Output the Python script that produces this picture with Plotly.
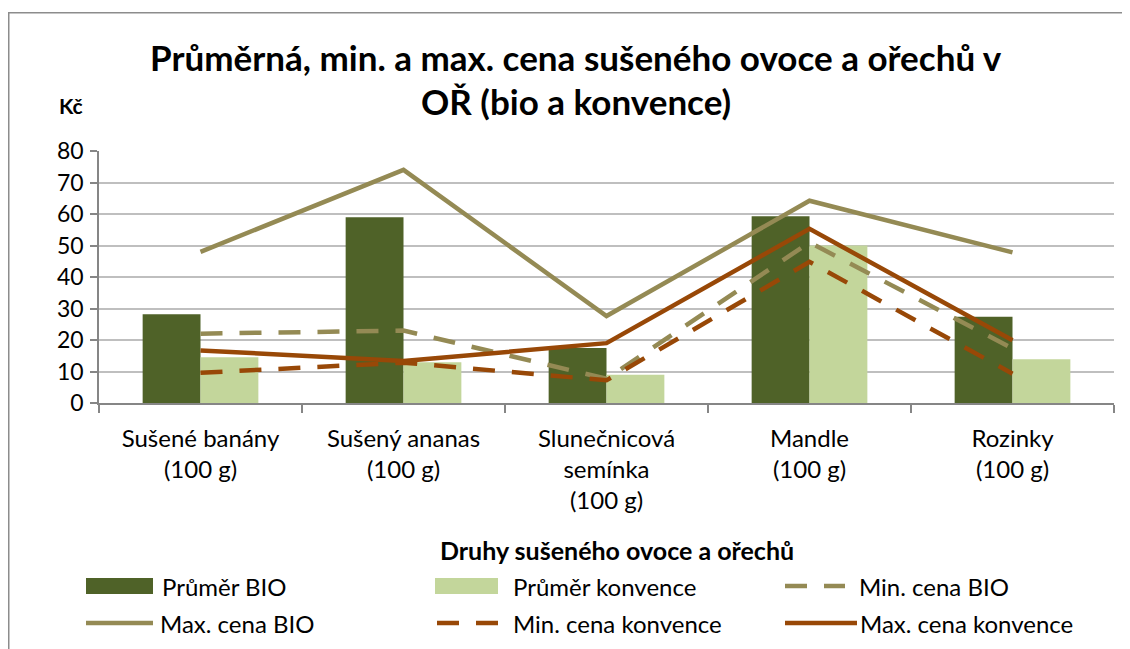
import plotly.graph_objects as go

# ---- data ----
categories = ["Sušené banány<br>(100 g)", "Sušený ananas<br>(100 g)",
              "Slunečnicová<br>semínka<br>(100 g)", "Mandle<br>(100 g)", "Rozinky<br>(100 g)"]
avg_bio = [28.2, 59.0, 17.5, 59.3, 27.4]
avg_konv = [14.5, 12.9, 9.0, 50.0, 13.9]
min_bio = [22.0, 23.0, 7.7, 51.0, 17.3]
max_bio = [48.0, 74.0, 27.6, 64.2, 47.8]
min_konv = [9.6, 12.8, 7.2, 44.8, 9.3]
max_konv = [16.7, 13.3, 19.0, 55.3, 19.9]
y_ticks = [0, 10, 20, 30, 40, 50, 60, 70, 80]

title_line1 = "Průměrná, min. a max. cena sušeného ovoce a ořechů v"
title_line2 = "OŘ (bio a konvence)"
y_unit = "Kč"
x_title = "Druhy sušeného ovoce a ořechů"

# ---- styles / layout (coordinates given in reference-page pixels) ----
OFF = 8  # page body margin
W, H = 1130 - OFF, 649 - OFF
PL, PR, PT, PB = 99, 1114, 151, 403  # plot area in page pixels
ML, MT = PL - OFF, PT - OFF
MR, MB = W - (PR - OFF), H - (PB - OFF)
PW, PH = PR - PL, PB - PT
FONT = "Lato"
C_DARK = "#4F6228"
C_LIGHT = "#C3D69B"
C_OLIVE = "#948A54"
C_BROWN = "#984807"
DASH = "22px,17px"
LW = 4.5


def px(x):
    return (x - PL) / PW


def py(y):
    return (PB - y) / PH


fig = go.Figure()
fig.add_bar(x=categories, y=avg_bio, name="Průměr BIO", marker_color=C_DARK, marker_line_width=0)
fig.add_bar(x=categories, y=avg_konv, name="Průměr konvence", marker_color=C_LIGHT, marker_line_width=0)
fig.add_scatter(x=categories, y=min_bio, name="Min. cena BIO", mode="lines",
                line=dict(color=C_OLIVE, width=LW, dash=DASH))
fig.add_scatter(x=categories, y=max_bio, name="Max. cena BIO", mode="lines",
                line=dict(color=C_OLIVE, width=LW))
fig.add_scatter(x=categories, y=min_konv, name="Min. cena konvence", mode="lines",
                line=dict(color=C_BROWN, width=LW, dash=DASH))
fig.add_scatter(x=categories, y=max_konv, name="Max. cena konvence", mode="lines",
                line=dict(color=C_BROWN, width=LW))

shapes = []
annotations = []

# chart border (clipped at right/bottom like the reference)
shapes.append(dict(type="rect", xref="paper", yref="paper",
                   x0=px(8.75), x1=px(1140), y0=py(660), y1=py(12.7),
                   line=dict(color="#8C8C8C", width=1.5), fillcolor="rgba(0,0,0,0)", layer="below"))

# title lines
for txt, yc in ((title_line1, 57), (title_line2, 101)):
    annotations.append(dict(text="<b>%s</b>" % txt, xref="paper", yref="paper",
                            x=px(576), y=py(yc), xanchor="center", yanchor="middle", showarrow=False,
                            font=dict(family=FONT, size=35, color="black")))
annotations.append(dict(text="<b>%s</b>" % y_unit, xref="paper", yref="paper",
                        x=px(71), y=py(105), xanchor="center", yanchor="middle", showarrow=False,
                        font=dict(family=FONT, size=21, color="black")))
annotations.append(dict(text="<b>%s</b>" % x_title, xref="paper", yref="paper",
                        x=px(617), y=py(550), xanchor="center", yanchor="middle", showarrow=False,
                        font=dict(family=FONT, size=25, color="black")))

# manual legend
legend_items = [
    ("Průměr BIO", "bar", C_DARK, None, 86, 153, 160, 586),
    ("Průměr konvence", "bar", C_LIGHT, None, 435, 498, 511, 586),
    ("Min. cena BIO", "line", C_OLIVE, DASH, 785, 845, 857, 586),
    ("Max. cena BIO", "line", C_OLIVE, None, 86, 153, 158, 623),
    ("Min. cena konvence", "line", C_BROWN, DASH, 437, 498, 511, 623),
    ("Max. cena konvence", "line", C_BROWN, None, 785, 857, 858, 623),
]
for name, kind, color, dash, x0, x1, tx, yc in legend_items:
    if kind == "bar":
        shapes.append(dict(type="rect", xref="paper", yref="paper",
                           x0=px(x0), x1=px(x1), y0=py(yc + 8), y1=py(yc - 8),
                           fillcolor=color, line=dict(width=0)))
    else:
        shapes.append(dict(type="line", xref="paper", yref="paper",
                           x0=px(x0), x1=px(x1), y0=py(yc), y1=py(yc),
                           line=dict(color=color, width=LW, dash=dash if dash else "solid")))
    annotations.append(dict(text=name, xref="paper", yref="paper", x=px(tx), y=py(yc),
                            xanchor="left", yanchor="middle", showarrow=False,
                            font=dict(family=FONT, size=24, color="black")))

fig.update_layout(
    width=W, height=H,
    margin=dict(l=ML, r=MR, t=MT, b=MB, autoexpand=False),
    paper_bgcolor="white", plot_bgcolor="white",
    barmode="group", bargap=0.43, bargroupgap=0,
    showlegend=False,
    font=dict(family=FONT, size=24, color="black"),
    shapes=shapes, annotations=annotations,
)
fig.update_xaxes(
    type="category", tickson="boundaries", ticks="outside", ticklen=8, tickwidth=1.5,
    tickcolor="#868686", showline=True, linecolor="#868686", linewidth=1.5,
    showgrid=False, tickfont=dict(family=FONT, size=24, color="black"),
    ticklabelstandoff=13,
)
fig.update_yaxes(
    range=[0, 80], tickvals=y_ticks, ticks="outside", ticklen=7, tickwidth=1.5,
    tickcolor="#868686", showline=True, linecolor="#868686", linewidth=1.5,
    showgrid=True, gridcolor="#BFBFBF", gridwidth=1.5, zeroline=False,
    tickfont=dict(family=FONT, size=23, color="black"), ticklabelstandoff=2,
)

fig.write_html("out.html")
